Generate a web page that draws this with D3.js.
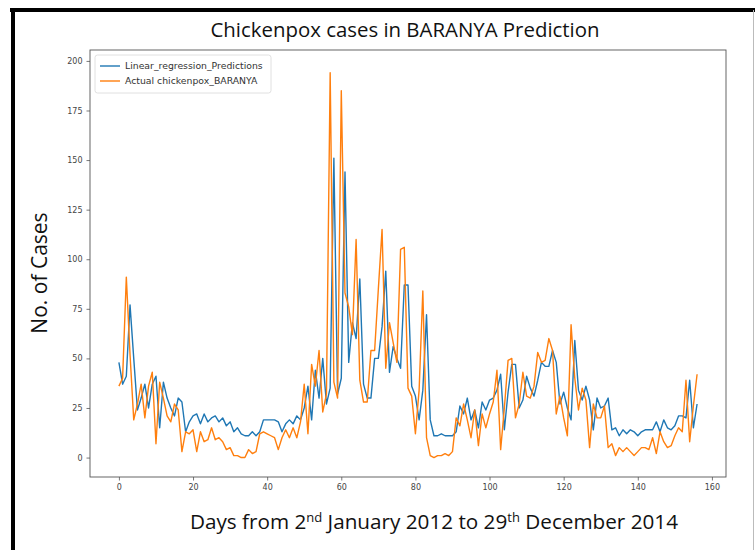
<!DOCTYPE html>
<html>
<head>
<meta charset="utf-8">
<script src="https://cdn.jsdelivr.net/npm/d3@7/dist/d3.min.js"></script>
<style>
  html, body { margin: 0; padding: 0; background: #fff; }
  svg { display: block; }
</style>
</head>
<body>
<svg id="chart" width="755" height="550"></svg>
<script>
// Weekly chickenpox cases in Baranya county: observed counts and linear regression predictions
const actualCases = [
  36, 40, 91, 52, 19, 27, 37, 20, 36, 43,
  7, 38, 30, 21, 18, 27, 24, 3, 13, 12,
  14, 3, 13, 8, 9, 15, 9, 10, 8, 4,
  5, 1, 1, 0, 0, 4, 2, 3, 12, 13,
  12, 11, 10, 4, 10, 14, 10, 15, 10, 18,
  37, 12, 47, 36, 54, 23, 32, 194, 38, 30,
  185, 83, 76, 62, 110, 39, 28, 28, 54, 54,
  85, 115, 45, 68, 58, 48, 105, 106, 35, 31,
  12, 34, 84, 10, 1, 0, 1, 1, 2, 1,
  3, 20, 16, 27, 19, 10, 24, 6, 22, 15,
  22, 28, 44, 4, 25, 49, 50, 20, 27, 43,
  31, 30, 36, 53, 48, 49, 60, 54, 22, 31,
  20, 11, 67, 40, 24, 35, 29, 5, 27, 20,
  20, 26, 5, 7, 1, 5, 3, 5, 3, 1,
  3, 5, 5, 4, 10, 2, 13, 8, 5, 6,
  11, 15, 13, 39, 8, 26, 42
];

const predictedCases = [
  48, 37, 41, 77, 50, 24, 30, 37, 25, 37,
  41, 15, 38, 30, 25, 21, 30, 28, 13, 18,
  21, 22, 17, 22, 18, 20, 21, 18, 20, 16,
  18, 13, 15, 12, 11, 11, 13, 11, 13, 19,
  19, 19, 19, 18, 13, 17, 19, 17, 21, 19,
  25, 36, 19, 44, 30, 50, 27, 35, 151, 32,
  40, 144, 48, 68, 60, 90, 37, 30, 30, 50,
  50, 66, 94, 43, 56, 50, 45, 87, 87, 36,
  31, 19, 34, 72, 19, 11, 11, 12, 11, 11,
  11, 13, 26, 22, 30, 19, 24, 15, 28, 24,
  29, 30, 34, 42, 14, 33, 47, 47, 25, 29,
  41, 35, 31, 39, 48, 46, 46, 54, 48, 27,
  33, 25, 19, 59, 34, 29, 36, 29, 14, 30,
  25, 26, 30, 14, 15, 11, 14, 12, 14, 13,
  11, 13, 14, 14, 14, 18, 13, 19, 15, 14,
  16, 21, 21, 20, 39, 15, 27
];

const xTicks = [0, 20, 40, 60, 80, 100, 120, 140, 160];
const yTicks = [0, 25, 50, 75, 100, 125, 150, 175, 200];
const seriesNames = ["Linear_regression_Predictions", "Actual chickenpox_BARANYA"];
const seriesColors = ["#1f77b4", "#ff7f0e"];

const svg = d3.select("#chart");

// slide frame
svg.append("rect").attr("x", 0).attr("y", 0).attr("width", 755).attr("height", 550).attr("fill", "#fff");
svg.append("rect").attr("x", 10).attr("y", 8).attr("width", 745).attr("height", 4).attr("fill", "#000");
svg.append("rect").attr("x", 11).attr("y", 8).attr("width", 4).attr("height", 542).attr("fill", "#000");
svg.append("line").attr("x1", 753.5).attr("x2", 753.5).attr("y1", 10).attr("y2", 550)
  .attr("stroke", "#bbb").attr("stroke-width", 1);

const plot = { left: 90, right: 726, top: 50, bottom: 477 };

const n = actualCases.length;
const xPad = (n - 1) * 0.05;
const x = d3.scaleLinear().domain([-xPad, n - 1 + xPad]).range([plot.left, plot.right]);
const y = d3.scaleLinear().domain([-9.8, 205.5]).range([plot.bottom, plot.top]);

// axes
const xAxis = svg.append("g").attr("transform", `translate(0,${plot.bottom})`)
  .call(d3.axisBottom(x).tickValues(xTicks).tickSize(3.5).tickPadding(4));
const yAxis = svg.append("g").attr("transform", `translate(${plot.left},0)`)
  .call(d3.axisLeft(y).tickValues(yTicks).tickSize(3.5).tickPadding(4));
[xAxis, yAxis].forEach(g => {
  g.select(".domain").remove();
  g.selectAll(".tick line").attr("stroke", "#555").attr("stroke-width", 0.8);
  g.selectAll(".tick text").attr("fill", "#444")
    .style("font-family", "'DejaVu Sans', sans-serif").style("font-size", "8px");
});

// plot frame
svg.append("rect")
  .attr("x", plot.left).attr("y", plot.top)
  .attr("width", plot.right - plot.left).attr("height", plot.bottom - plot.top)
  .attr("fill", "none").attr("stroke", "#555").attr("stroke-width", 0.9);

// series lines
const line = d3.line().x((d, i) => x(i)).y(d => y(d));
[predictedCases, actualCases].forEach((vals, k) => {
  svg.append("path")
    .datum(vals)
    .attr("fill", "none")
    .attr("stroke", seriesColors[k])
    .attr("stroke-width", 1.4)
    .attr("stroke-linejoin", "round")
    .attr("d", line);
});

// legend
const legend = svg.append("g").attr("transform", "translate(95,55)");
legend.append("rect").attr("x", 0).attr("y", 0).attr("width", 176).attr("height", 38)
  .attr("rx", 2.5).attr("fill", "#fff").attr("fill-opacity", 0.85)
  .attr("stroke", "#ddd").attr("stroke-width", 0.9);
seriesNames.forEach((name, k) => {
  const yy = 11 + k * 15;
  legend.append("line").attr("x1", 5).attr("x2", 25).attr("y1", yy).attr("y2", yy)
    .attr("stroke", seriesColors[k]).attr("stroke-width", 1.4);
  legend.append("text").attr("x", 30).attr("y", yy).attr("dy", "0.35em")
    .attr("fill", "#333")
    .style("font-family", "'DejaVu Sans', sans-serif").style("font-size", "9.3px")
    .text(name);
});

// title and axis labels
svg.append("text").attr("x", 405).attr("y", 37).attr("text-anchor", "middle")
  .attr("fill", "#111")
  .style("font-family", "'Open Sans', sans-serif").style("font-size", "20.4px")
  .text("Chickenpox cases in BARANYA Prediction");

svg.append("text")
  .attr("transform", "translate(47,273) rotate(-90)")
  .attr("text-anchor", "middle").attr("fill", "#111")
  .style("font-family", "'Open Sans', sans-serif").style("font-size", "21px")
  .text("No. of Cases");

const xl = svg.append("text").attr("x", 434).attr("y", 529).attr("text-anchor", "middle")
  .attr("fill", "#111")
  .style("font-family", "'Open Sans', sans-serif").style("font-size", "20.7px");
xl.append("tspan").text("Days from 2");
xl.append("tspan").attr("dy", -7.5).style("font-size", "13px").text("nd");
xl.append("tspan").attr("dy", 7.5).text(" January 2012 to 29");
xl.append("tspan").attr("dy", -7.5).style("font-size", "13px").text("th");
xl.append("tspan").attr("dy", 7.5).text(" December 2014");
</script>
</body>
</html>
